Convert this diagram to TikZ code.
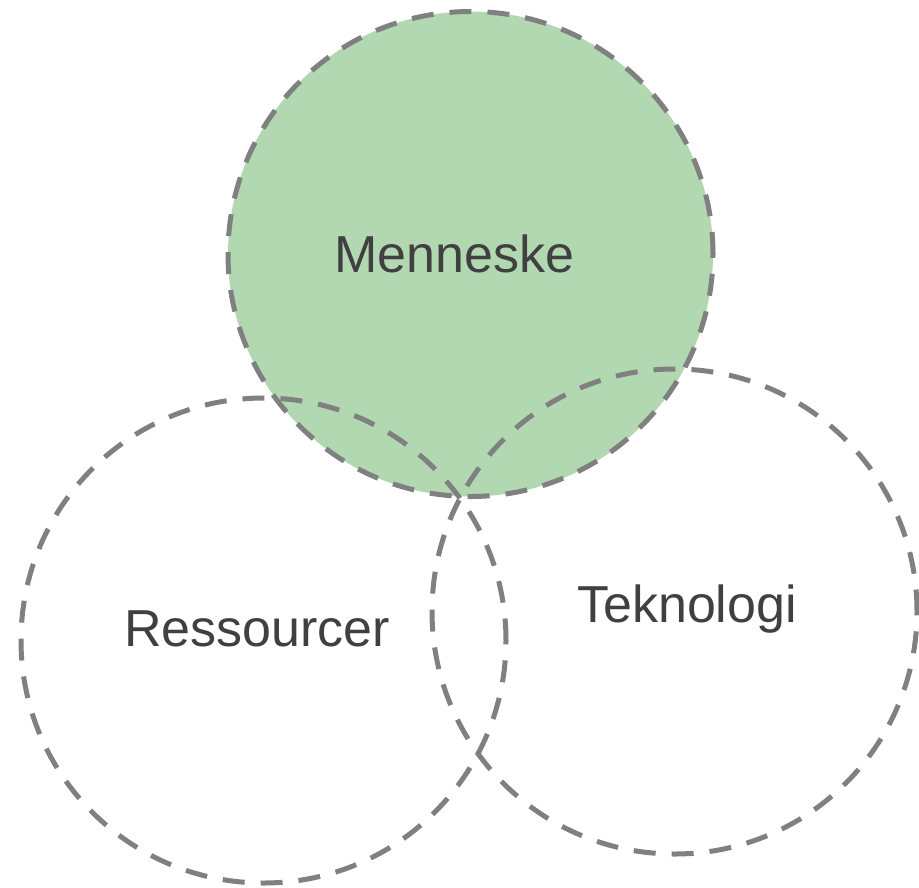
\documentclass[tikz,border=0pt]{standalone}
\usepackage{fontspec}
\setmainfont{Liberation Sans}
\definecolor{ringgray}{HTML}{808080}
\definecolor{fillgreen}{HTML}{B2D8B2}
\definecolor{txtgray}{HTML}{404040}
\begin{document}
\begin{tikzpicture}[x=1pt,y=-1pt,
  ring/.style={circle, draw=ringgray, line width=5pt, dash pattern=on 22pt off 16pt, inner sep=0pt, minimum size=485pt},
  lbl/.style={text=txtgray, font=\fontsize{52}{60}\selectfont, anchor=base, inner sep=0pt}]
\useasboundingbox (0,0) rectangle (919,887);
\node[ring, fill=fillgreen] (top) at (470.5,254) {};
\node[ring] (left) at (263.5,640.5) {};
\node[ring] (right) at (674.5,611.5) {};
\node[lbl] (m) at (454,272) {Menneske};
\node[lbl] (r) at (257,646) {Ressourcer};
\node[lbl] (t) at (687,622) {Teknologi};
\end{tikzpicture}
\end{document}
